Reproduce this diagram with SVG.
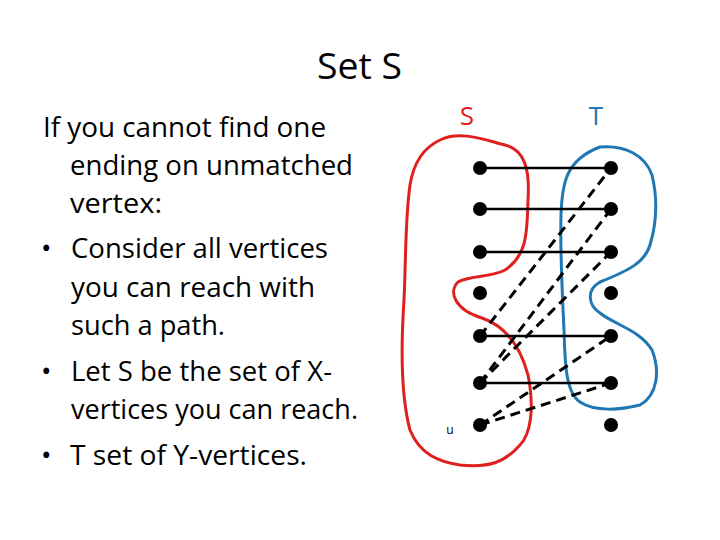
<svg xmlns="http://www.w3.org/2000/svg" width="720" height="540" viewBox="0 0 720 540">
<style>
.t{font-family:"Open Sans","Liberation Sans",sans-serif;font-size:28px;fill:#000}
.solid{stroke:#000;stroke-width:2.5;fill:none}
.dash{stroke:#000;stroke-width:3;stroke-dasharray:10,6;fill:none}
.v{fill:#000}
</style>
<rect width="720" height="540" fill="#fff"/>
<text class="t" x="317" y="79" style="font-size:36px" textLength="85" lengthAdjust="spacingAndGlyphs">Set S</text>
<g id="bodytext">
<text class="t" x="43" y="137" textLength="283" lengthAdjust="spacingAndGlyphs">If you cannot find one</text>
<text class="t" x="70" y="175" textLength="283" lengthAdjust="spacingAndGlyphs">ending on unmatched</text>
<text class="t" x="70" y="213" textLength="92" lengthAdjust="spacingAndGlyphs">vertex:</text>
<text class="t" x="41" y="258">•</text>
<text class="t" x="71" y="258" textLength="257" lengthAdjust="spacingAndGlyphs">Consider all vertices</text>
<text class="t" x="71" y="297" textLength="244" lengthAdjust="spacingAndGlyphs">you can reach with</text>
<text class="t" x="71" y="335" textLength="154" lengthAdjust="spacingAndGlyphs">such a path.</text>
<text class="t" x="41" y="381">•</text>
<text class="t" x="71" y="381" textLength="261" lengthAdjust="spacingAndGlyphs">Let S be the set of X-</text>
<text class="t" x="71" y="419" textLength="287" lengthAdjust="spacingAndGlyphs">vertices you can reach.</text>
<text class="t" x="41" y="465">•</text>
<text class="t" x="70" y="465" textLength="237" lengthAdjust="spacingAndGlyphs">T set of Y-vertices.</text>
</g>
<g id="setS">
<path d="M440,140 C460,130 485,140 505,145 C525,150 530,170 528,200 C527,230 528,255 505,270 C490,278 470,275 458,282 C448,292 455,310 482,318 C505,326 520,345 528,375 C535,410 530,435 520,445 C505,462 490,468 460,465 C440,462 420,455 410,430 C402,400 400,360 404,300 C406,260 405,220 410,185 C414,160 425,147 440,140 Z" fill="none" stroke="#e0201e" stroke-width="3"/>
<text x="467" y="125" style="font-family:'Open Sans','Liberation Sans',sans-serif;font-size:26px;fill:#e0201e" text-anchor="middle">S</text>
</g>
<g id="setT">
<path d="M600,147 C625,145 645,155 652,175 C658,200 656,225 650,245 C645,262 630,270 600,282 C586,290 588,305 600,313 C615,325 640,330 652,350 C660,370 658,395 640,405 C620,410 595,412 580,402 C565,392 565,360 564,330 C562,290 560,250 561,215 C562,185 565,160 600,147 Z" fill="none" stroke="#1f78b4" stroke-width="3"/>
<text x="596" y="125" style="font-family:'Open Sans','Liberation Sans',sans-serif;font-size:26px;fill:#1f78b4" text-anchor="middle">T</text>
</g>
<g id="connectors">
<line class="solid" x1="480" y1="168" x2="611" y2="168"/>
<line class="solid" x1="480" y1="209" x2="611" y2="209"/>
<line class="solid" x1="480" y1="252" x2="611" y2="252"/>
<line class="solid" x1="480" y1="336" x2="611" y2="336"/>
<line class="solid" x1="480" y1="383" x2="611" y2="383"/>
<line class="dash" x1="480" y1="336" x2="611" y2="168"/>
<line class="dash" x1="480" y1="383" x2="611" y2="209"/>
<line class="dash" x1="480" y1="383" x2="611" y2="252"/>
<line class="dash" x1="480" y1="425" x2="611" y2="336"/>
<line class="dash" x1="480" y1="425" x2="611" y2="383"/>
</g>
<g id="x1"><circle class="v" cx="480" cy="168" r="7"/></g>
<g id="x2"><circle class="v" cx="480" cy="209" r="7"/></g>
<g id="x3"><circle class="v" cx="480" cy="252" r="7"/></g>
<g id="x4"><circle class="v" cx="480" cy="293" r="7"/></g>
<g id="x5"><circle class="v" cx="480" cy="336" r="7"/></g>
<g id="x6"><circle class="v" cx="480" cy="383" r="7"/></g>
<g id="u"><circle class="v" cx="480" cy="425" r="7"/><text x="450" y="434" style="font-family:'Open Sans','Liberation Sans',sans-serif;font-size:12px;fill:#000" text-anchor="middle">u</text></g>
<g id="y1"><circle class="v" cx="611" cy="168" r="7"/></g>
<g id="y2"><circle class="v" cx="611" cy="209" r="7"/></g>
<g id="y3"><circle class="v" cx="611" cy="252" r="7"/></g>
<g id="y4"><circle class="v" cx="611" cy="293" r="7"/></g>
<g id="y5"><circle class="v" cx="611" cy="336" r="7"/></g>
<g id="y6"><circle class="v" cx="611" cy="383" r="7"/></g>
<g id="y7"><circle class="v" cx="611" cy="425" r="7"/></g>
</svg>
